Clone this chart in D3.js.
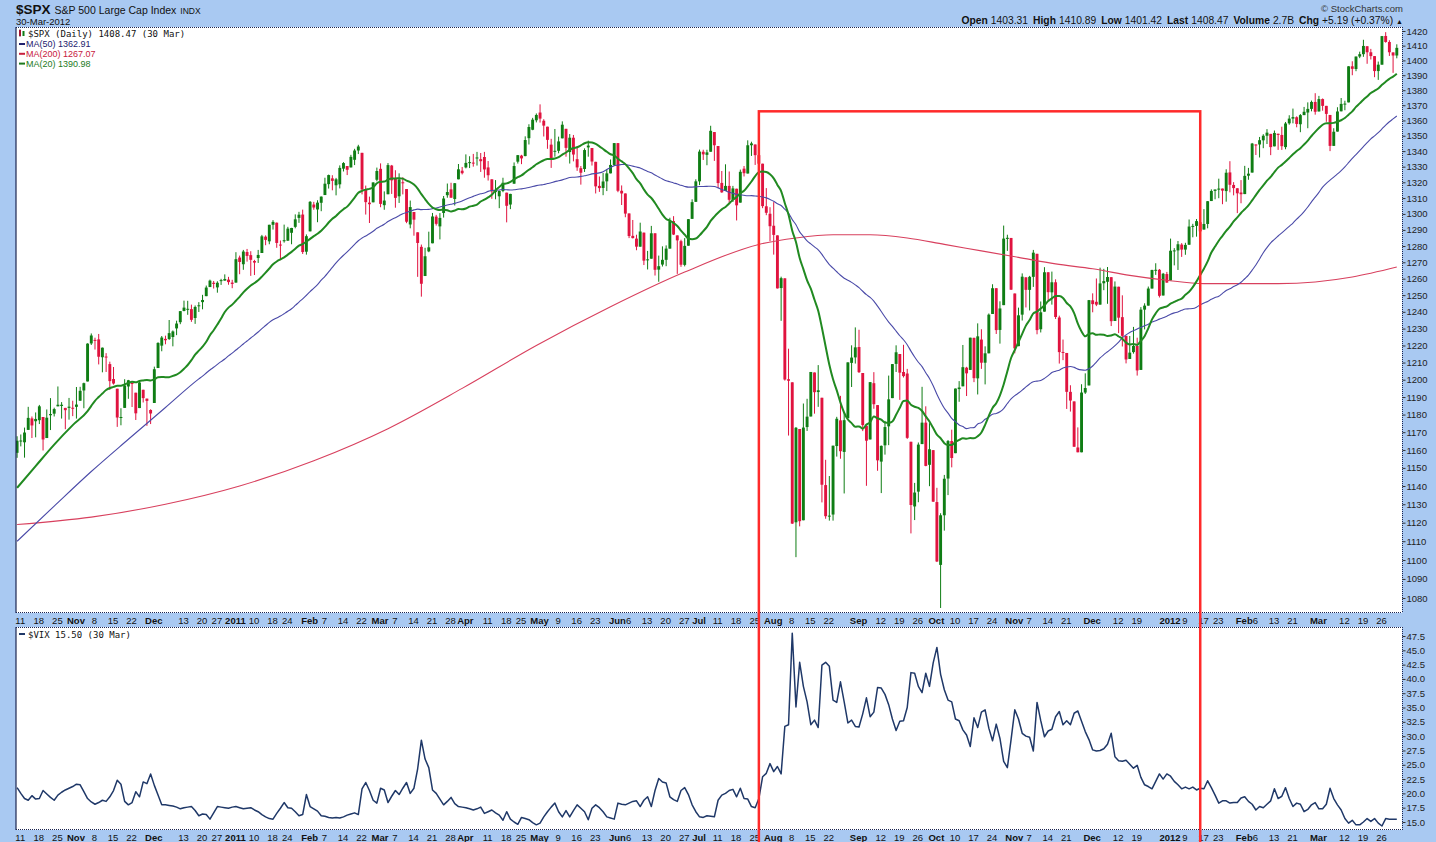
<!DOCTYPE html>
<html><head><meta charset="utf-8">
<script src="https://cdnjs.cloudflare.com/ajax/libs/d3/7.8.5/d3.min.js"></script>
<style>
body{margin:0;background:#a9c9f2;}
svg{display:block;}
</style>
</head><body>
<svg id="c" width="1436" height="842"></svg>
<script>
// ---------------- DATA ----------------
const firstDay = "2010-10-08", lastDay = "2012-03-30";
const holidays = ["2010-11-25","2010-12-24","2011-01-17","2011-02-21","2011-04-22","2011-05-30","2011-07-04",
  "2011-09-05","2011-11-24","2011-12-26","2012-01-02","2012-01-16","2012-02-20"];

// S&P 500 daily [open, high, low, close]
const spx = [
// Oct 2010
[1158.4,1167.7,1155.6,1165.2],[1165.3,1168.7,1162.0,1165.3],[1164.3,1172.6,1155.7,1169.8],[1171.3,1184.4,1171.3,1178.1],[1177.8,1178.9,1166.7,1173.8],[1177.5,1181.2,1167.1,1176.2],
[1176.8,1185.5,1174.6,1184.7],[1178.6,1178.6,1159.7,1165.9],[1166.7,1182.9,1166.7,1178.2],[1179.6,1189.4,1171.2,1180.3],[1180.5,1183.9,1178.9,1183.1],
[1184.7,1196.1,1184.7,1185.6],[1184.9,1187.1,1177.7,1185.6],[1183.8,1183.8,1171.7,1182.5],[1184.5,1189.5,1177.1,1183.8],[1183.9,1187.9,1179.1,1183.3],
// Nov 2010
[1185.7,1195.8,1177.7,1184.4],[1187.9,1195.9,1187.9,1193.6],[1193.8,1198.3,1183.6,1198.0],[1199.0,1221.3,1199.0,1221.1],[1221.2,1227.1,1220.3,1225.9],
[1223.2,1224.6,1217.6,1223.3],[1223.6,1226.8,1208.9,1213.4],[1213.1,1218.8,1204.3,1218.7],[1213.0,1215.5,1204.5,1213.5],[1209.1,1210.5,1194.1,1199.2],
[1200.4,1207.4,1197.2,1197.8],[1194.8,1194.8,1173.0,1178.3],[1178.3,1183.6,1173.9,1178.6],[1183.8,1200.3,1183.8,1196.7],[1196.1,1199.9,1189.0,1199.7],
[1198.1,1198.9,1184.3,1197.8],[1192.5,1192.5,1176.9,1180.7],[1183.7,1198.6,1183.7,1198.4],[1194.2,1194.2,1186.9,1189.4],
[1189.1,1189.1,1173.6,1187.8],[1182.6,1183.0,1174.6,1180.6],
// Dec 2010
[1186.6,1207.6,1186.6,1206.1],[1206.8,1221.9,1206.8,1221.5],[1219.9,1225.6,1216.6,1224.7],
[1223.9,1225.8,1220.7,1223.1],[1227.3,1235.1,1223.3,1223.8],[1225.0,1228.9,1219.5,1228.3],[1230.1,1234.7,1226.1,1233.0],[1233.8,1240.4,1232.6,1240.4],
[1242.5,1246.7,1240.3,1240.5],[1241.8,1246.6,1238.2,1241.6],[1241.6,1244.3,1234.0,1235.2],[1236.3,1243.8,1232.8,1242.9],[1243.6,1245.8,1239.9,1243.9],
[1245.8,1250.2,1241.5,1247.1],[1249.4,1255.8,1249.4,1254.6],[1254.9,1259.4,1254.9,1258.8],[1257.5,1258.6,1254.0,1256.8],
[1254.7,1258.4,1251.5,1257.5],[1259.1,1259.9,1256.2,1258.5],[1258.8,1262.6,1258.8,1259.8],[1259.4,1261.1,1256.3,1257.9],[1256.8,1259.3,1254.2,1257.6],
// Jan 2011
[1257.6,1276.2,1257.6,1271.9],[1272.9,1274.1,1262.7,1270.2],[1268.8,1277.6,1265.4,1276.6],[1276.3,1278.2,1270.4,1273.9],[1274.4,1276.8,1261.7,1271.5],
[1270.8,1271.5,1262.2,1269.8],[1272.6,1277.6,1269.6,1274.5],[1275.7,1286.9,1275.7,1286.0],[1285.8,1286.6,1280.5,1283.8],[1282.9,1293.2,1281.1,1293.2],
[1293.2,1296.1,1290.2,1295.0],[1294.5,1294.6,1278.9,1281.9],[1280.9,1283.4,1271.3,1280.3],[1283.6,1293.3,1282.1,1283.4],
[1283.3,1291.9,1283.2,1290.8],[1288.2,1291.3,1281.1,1291.2],[1291.9,1299.7,1291.0,1296.6],[1297.5,1301.3,1294.4,1299.5],[1299.6,1302.7,1275.1,1276.3],
[1276.5,1287.2,1274.7,1286.1],
// Feb 2011
[1289.1,1308.1,1289.1,1307.6],[1305.9,1307.6,1302.6,1304.0],[1302.8,1308.6,1294.8,1307.1],[1307.0,1311.0,1301.7,1310.9],
[1311.9,1322.9,1311.9,1319.1],[1318.8,1324.9,1316.0,1324.6],[1322.5,1324.5,1314.9,1320.9],[1318.1,1322.8,1311.7,1321.9],[1318.7,1330.8,1316.1,1329.2],
[1328.7,1332.9,1326.9,1332.3],[1330.4,1330.4,1324.6,1328.0],[1329.5,1337.6,1329.5,1336.3],[1334.4,1341.5,1331.0,1340.4],[1340.4,1344.1,1338.1,1343.0],
[1338.9,1338.9,1312.3,1315.4],[1315.4,1317.9,1299.6,1307.4],[1307.1,1310.9,1294.3,1306.1],[1307.3,1320.0,1307.3,1319.9],
[1321.6,1329.4,1320.6,1327.2],
// Mar 2011
[1328.6,1332.1,1304.2,1306.3],[1305.5,1314.2,1302.6,1308.4],[1312.4,1332.3,1312.4,1331.0],[1330.7,1331.1,1312.6,1321.2],
[1322.7,1327.7,1303.9,1310.1],[1311.1,1325.7,1306.9,1321.8],[1319.9,1323.2,1312.3,1320.0],[1315.7,1315.7,1294.2,1295.1],[1293.4,1308.4,1291.0,1304.3],
[1301.2,1301.2,1286.4,1296.4],[1288.5,1288.5,1261.1,1281.9],[1279.5,1280.9,1249.1,1256.9],[1261.6,1278.9,1261.6,1273.7],[1276.7,1288.9,1276.2,1279.2],
[1281.7,1300.6,1281.7,1298.4],[1298.3,1299.4,1292.7,1293.8],[1292.2,1300.5,1284.1,1297.5],[1300.6,1311.3,1297.7,1309.7],[1311.8,1319.2,1310.2,1313.8],
[1315.5,1319.7,1310.2,1310.2],[1309.4,1319.5,1305.3,1319.4],[1321.9,1331.7,1321.9,1328.3],[1327.4,1329.8,1325.0,1325.8],
// Apr 2011
[1329.5,1337.9,1328.9,1332.4],
[1332.7,1336.7,1329.1,1332.9],[1332.0,1338.2,1330.0,1332.6],[1335.9,1339.5,1330.7,1335.5],[1334.8,1338.8,1326.6,1333.5],[1336.2,1339.5,1322.9,1328.2],
[1329.5,1333.6,1321.1,1324.5],[1321.9,1321.9,1309.5,1314.2],[1314.0,1321.4,1309.2,1314.4],[1311.1,1314.7,1303.6,1314.5],[1314.5,1322.9,1313.7,1319.7],
[1313.4,1313.4,1294.7,1305.1],[1305.9,1312.7,1303.0,1312.6],[1319.1,1332.7,1319.1,1330.4],[1333.2,1337.5,1332.0,1337.4],
[1337.1,1337.6,1331.6,1335.3],[1336.8,1349.6,1336.7,1347.2],[1348.4,1357.5,1344.3,1355.7],[1353.9,1361.7,1353.6,1360.5],[1360.1,1364.6,1358.7,1363.6],
// May 2011
[1365.2,1370.6,1358.6,1361.2],[1359.8,1360.8,1349.5,1356.6],[1355.9,1355.9,1341.5,1347.3],[1344.2,1348.0,1329.2,1335.1],[1340.2,1354.4,1336.4,1340.2],
[1340.2,1349.4,1338.6,1346.3],[1348.3,1359.4,1348.3,1357.2],[1354.5,1354.5,1336.4,1342.1],[1339.4,1351.1,1332.0,1348.7],[1348.7,1350.5,1333.4,1337.8],
[1334.8,1343.3,1327.3,1329.5],[1326.1,1330.4,1318.5,1329.0],[1328.5,1341.8,1326.6,1340.7],[1342.4,1346.8,1336.4,1343.6],[1342.0,1342.0,1330.7,1333.3],
[1333.1,1333.1,1312.9,1317.4],[1317.7,1323.7,1313.9,1316.3],[1316.4,1325.9,1311.8,1320.5],[1320.6,1328.5,1314.4,1325.7],[1325.7,1334.6,1325.7,1331.1],
[1331.1,1345.2,1331.1,1345.2],
// Jun 2011
[1345.2,1345.2,1313.7,1314.6],[1314.6,1318.0,1305.6,1312.9],[1312.9,1312.9,1297.9,1300.2],
[1300.3,1300.3,1284.9,1286.2],[1286.3,1296.2,1284.7,1284.9],[1284.6,1287.0,1277.4,1279.6],[1279.6,1294.5,1279.6,1289.0],[1288.3,1288.3,1268.3,1271.0],
[1271.3,1277.0,1265.6,1271.8],[1272.2,1292.5,1272.2,1287.9],[1287.9,1287.9,1261.9,1265.4],[1265.5,1274.1,1258.1,1267.6],[1268.6,1279.8,1267.4,1271.5],
[1271.5,1280.4,1267.6,1278.4],[1278.4,1297.6,1278.4,1295.5],[1295.5,1298.6,1286.8,1287.1],[1286.6,1286.6,1262.9,1283.5],[1283.0,1283.9,1267.2,1268.5],
[1268.4,1284.9,1267.5,1280.1],[1280.2,1296.8,1280.2,1296.7],[1296.9,1309.2,1296.9,1307.4],[1307.6,1321.9,1307.6,1320.6],
// Jul 2011
[1320.6,1341.0,1318.2,1339.7],
[1339.6,1340.9,1334.3,1337.9],[1337.6,1340.9,1330.9,1339.2],[1339.6,1356.5,1339.6,1353.2],[1352.4,1352.4,1333.7,1343.8],
[1343.3,1343.3,1316.4,1319.5],[1319.6,1327.2,1313.3,1313.6],[1314.5,1331.5,1314.5,1317.7],[1317.7,1326.9,1306.5,1308.9],[1308.9,1317.7,1307.5,1316.1],
[1315.9,1315.9,1295.9,1305.4],[1307.1,1328.1,1307.1,1326.7],[1328.7,1330.4,1323.7,1325.8],[1325.6,1347.0,1325.6,1343.8],[1343.8,1346.1,1336.9,1345.0],
[1344.3,1344.3,1331.1,1337.4],[1337.4,1338.5,1329.1,1331.9],[1331.9,1331.9,1303.6,1304.9],[1304.8,1316.3,1299.2,1300.7],[1300.1,1304.2,1282.9,1292.3],
// Aug 2011
[1292.6,1307.4,1274.7,1286.9],[1286.6,1286.6,1254.0,1254.1],[1254.3,1261.2,1234.6,1260.3],[1260.2,1260.2,1199.5,1200.1],[1200.3,1218.1,1168.1,1199.4],
[1198.5,1198.5,1119.3,1119.5],[1120.2,1172.9,1101.5,1172.5],[1171.8,1171.8,1118.0,1120.8],[1121.3,1186.3,1121.3,1172.6],[1172.9,1189.0,1170.7,1178.8],
[1178.9,1204.5,1178.9,1204.5],[1204.2,1204.2,1180.5,1192.8],[1192.9,1208.5,1184.4,1193.9],[1189.6,1189.6,1131.0,1140.7],[1140.5,1154.5,1122.1,1123.5],
[1123.6,1145.5,1121.1,1123.8],[1124.4,1162.4,1121.1,1162.4],[1162.2,1178.7,1156.3,1177.6],[1176.7,1190.7,1155.1,1159.3],[1158.9,1181.2,1135.9,1176.8],
[1177.9,1210.1,1177.9,1210.1],[1209.8,1220.1,1195.8,1212.9],[1213.0,1230.7,1209.4,1218.9],
// Sep 2011
[1219.1,1229.3,1203.9,1204.4],[1203.9,1203.9,1170.6,1174.0],
[1173.6,1173.6,1140.1,1165.2],[1165.9,1198.6,1165.9,1198.6],[1198.0,1204.4,1183.3,1185.9],[1185.4,1185.4,1148.4,1154.2],
[1153.5,1162.5,1136.1,1162.3],[1162.6,1176.4,1157.4,1172.9],[1173.3,1202.4,1162.7,1188.7],[1189.4,1209.1,1189.4,1209.1],[1209.2,1220.1,1204.5,1216.0],
[1215.0,1215.0,1188.4,1204.1],[1204.5,1220.4,1201.3,1202.1],[1203.6,1206.3,1166.2,1166.8],[1164.6,1164.6,1114.2,1129.6],[1128.8,1141.7,1121.4,1136.4],
[1136.9,1164.2,1131.1,1163.0],[1163.3,1195.9,1163.3,1175.4],[1175.4,1184.7,1150.9,1151.1],[1151.7,1175.1,1139.9,1160.4],[1159.9,1159.9,1131.3,1131.4],
// Oct 2011
[1131.2,1139.0,1098.9,1099.2],[1097.4,1125.1,1074.8,1124.0],[1124.0,1146.1,1115.7,1144.0],[1144.1,1165.6,1135.0,1165.0],[1165.0,1171.4,1150.3,1155.5],
[1158.2,1194.9,1158.2,1194.9],[1194.6,1199.2,1187.3,1195.5],[1196.2,1220.3,1196.2,1207.3],[1207.0,1207.5,1190.6,1203.7],[1205.7,1224.6,1205.7,1224.6],
[1224.5,1224.6,1198.6,1200.9],[1200.8,1233.1,1191.5,1225.4],[1223.5,1229.6,1206.3,1209.9],[1209.9,1219.5,1197.3,1215.4],[1215.4,1239.0,1215.4,1238.3],
[1238.7,1256.6,1238.7,1254.2],[1254.2,1254.2,1226.8,1229.1],[1229.2,1246.3,1221.1,1242.0],[1244.0,1292.7,1244.0,1284.6],[1284.4,1287.0,1277.0,1285.1],
[1285.0,1285.0,1253.2,1253.3],
// Nov 2011
[1251.0,1251.0,1215.4,1218.3],[1219.6,1242.5,1219.6,1237.9],[1238.3,1263.2,1234.8,1261.2],[1260.8,1260.8,1242.6,1253.2],
[1253.2,1261.7,1240.8,1261.1],[1261.1,1277.6,1255.0,1275.9],[1275.2,1275.2,1226.6,1229.1],[1229.6,1246.2,1227.7,1239.7],[1240.1,1267.0,1240.1,1263.9],
[1263.9,1263.9,1246.7,1251.8],[1251.7,1264.3,1244.3,1257.8],[1257.8,1259.6,1235.7,1236.9],[1236.6,1237.7,1209.4,1216.1],[1216.2,1223.5,1211.4,1215.7],
[1215.6,1215.6,1183.2,1193.0],[1193.0,1196.8,1181.7,1188.0],[1187.5,1187.5,1161.8,1161.8],[1161.4,1172.7,1158.7,1158.7],
[1158.7,1197.4,1158.7,1192.6],[1192.6,1203.7,1191.8,1195.2],[1196.7,1247.1,1196.7,1247.0],
// Dec 2011
[1246.9,1251.1,1239.7,1244.6],[1246.0,1260.1,1243.4,1244.3],
[1244.3,1266.7,1244.3,1257.1],[1257.2,1266.0,1253.0,1258.5],[1258.1,1267.1,1244.8,1261.0],[1260.9,1260.9,1231.5,1234.4],[1234.5,1258.3,1234.5,1255.2],
[1255.1,1255.1,1227.3,1236.5],[1236.8,1249.9,1219.4,1225.7],[1225.7,1225.7,1209.5,1211.8],[1212.1,1225.6,1212.1,1215.8],[1216.1,1231.0,1215.2,1219.7],
[1219.7,1224.6,1202.4,1205.4],[1205.7,1242.8,1205.7,1241.3],[1241.3,1245.1,1229.5,1243.7],[1243.7,1255.2,1243.7,1254.0],[1254.0,1265.4,1254.0,1265.3],
[1265.0,1269.4,1262.3,1265.4],[1265.4,1265.9,1248.6,1249.6],[1249.8,1263.5,1249.8,1263.0],[1262.8,1264.1,1257.5,1257.6],
// Jan 2012
[1258.9,1284.6,1258.9,1277.1],[1277.0,1278.7,1268.1,1277.3],[1277.3,1283.1,1265.3,1281.1],[1280.9,1281.8,1273.3,1277.8],
[1277.8,1282.0,1274.6,1280.7],[1280.8,1296.5,1280.8,1292.1],[1292.0,1293.8,1285.4,1292.5],[1292.5,1296.8,1285.8,1295.5],[1294.8,1294.8,1277.6,1289.1],
[1290.2,1303.0,1290.2,1293.7],[1293.7,1308.1,1291.0,1308.0],[1308.1,1315.5,1308.1,1314.5],[1314.5,1315.4,1309.2,1315.4],
[1315.3,1322.3,1309.9,1316.0],[1316.0,1316.0,1306.1,1314.7],[1314.4,1328.3,1307.7,1326.1],[1326.3,1333.5,1313.6,1318.4],[1318.3,1320.1,1311.7,1316.3],
[1316.2,1316.2,1300.5,1313.0],[1313.5,1321.4,1306.7,1312.4],
// Feb 2012
[1312.5,1330.5,1312.5,1324.1],[1324.2,1329.2,1321.6,1325.5],[1326.2,1345.3,1326.2,1344.9],
[1344.3,1344.4,1337.5,1344.3],[1344.3,1349.2,1335.9,1347.1],[1347.0,1351.0,1341.9,1350.0],[1350.0,1354.3,1344.6,1352.0],[1351.2,1351.2,1337.4,1342.6],
[1343.1,1353.4,1343.1,1351.8],[1351.3,1351.3,1340.8,1350.5],[1350.5,1355.9,1340.8,1343.2],[1342.6,1359.0,1341.2,1358.0],[1358.1,1363.4,1357.2,1361.2],
[1361.2,1367.8,1358.1,1362.2],[1362.1,1362.7,1355.5,1357.7],[1357.5,1364.2,1352.3,1363.5],[1363.5,1368.9,1363.5,1365.7],
[1365.2,1371.9,1354.9,1367.6],[1367.6,1373.1,1366.0,1372.2],[1372.2,1378.0,1363.8,1365.7],
// Mar 2012
[1365.9,1376.2,1365.9,1374.1],[1374.1,1374.5,1366.4,1369.6],
[1369.6,1369.6,1359.1,1364.3],[1363.6,1363.6,1340.0,1343.4],[1343.4,1354.9,1343.4,1352.6],[1352.7,1368.7,1352.7,1365.9],[1366.0,1374.8,1366.0,1370.9],
[1370.8,1373.0,1366.7,1371.1],[1371.9,1396.1,1371.9,1396.0],[1396.0,1399.4,1390.0,1394.3],[1394.2,1402.6,1392.7,1402.6],[1402.6,1405.9,1401.5,1404.2],
[1404.2,1414.0,1402.4,1409.8],[1409.6,1409.6,1397.7,1405.5],[1405.5,1407.8,1400.6,1402.9],[1402.9,1402.9,1388.7,1392.8],[1392.8,1399.2,1386.9,1397.1],
[1397.1,1416.6,1397.1,1416.5],[1416.6,1419.2,1412.0,1412.5],[1412.5,1413.7,1403.0,1405.5],[1405.4,1405.4,1391.6,1403.3],[1403.3,1410.9,1401.4,1408.5]
];

// VIX daily close
const vix = [
21.0,20.0,19.1,18.8,19.6,19.0,19.1,20.5,19.9,19.3, 18.8,19.7,20.2,20.6,20.9,21.2,21.6,21.5,20.3,19.1,
18.5,18.1,18.4,18.8,18.6,19.4,20.5,22.3,21.6,18.6, 18.0,18.4,20.3,19.4,22.0,21.7,23.4,21.4,19.7,18.0,
18.0,17.9,17.8,17.6,17.3,17.5,17.6,17.7,17.0,16.1, 16.4,16.3,15.5,16.6,17.7,17.6,17.5,17.4,17.6,17.7,
17.5,17.3,17.4,17.5,17.1,16.8,16.3,15.9,15.6,15.5, 16.5,17.4,18.4,17.5,17.4,16.8,16.1,16.3,19.8,17.7,
17.3,16.9,16.1,16.0,15.8,15.7,15.8,15.7,15.9,16.2, 16.4,16.6,16.3,20.8,21.9,20.5,18.8,18.3,20.9,20.6,
18.4,19.5,20.5,19.8,20.9,21.9,20.0,20.9,24.3,29.3, 26.0,24.5,20.6,20.0,19.0,18.0,18.6,19.3,18.2,17.7,
17.6,17.5,17.3,17.1,17.3,17.6,16.5,16.8,17.1,16.6, 16.2,15.3,16.8,15.5,15.0,14.6,15.8,15.6,15.4,14.9,
14.5,14.8,15.9,16.8,17.6,18.3,16.8,15.9,17.0,15.9, 17.0,18.0,17.4,16.8,15.4,17.4,18.0,17.5,16.8,15.9,
15.7,15.5,18.3,18.1,18.0,18.3,18.6,18.7,17.7,18.8, 19.4,17.7,20.5,22.6,22.0,21.8,19.4,18.9,18.6,20.5,
21.0,19.8,18.0,16.8,15.9,15.8,16.1,16.0,15.9,18.8, 19.7,20.0,20.5,20.7,19.4,20.9,19.1,19.0,17.7,17.5,
19.1,22.9,23.5,25.2,23.8,24.7,23.4,31.7,32.0,48.0, 35.1,42.9,38.7,36.0,32.0,32.8,31.5,42.4,42.9,42.2,
36.3,35.9,39.5,36.0,32.3,32.8,31.7,31.6,33.9,36.7, 33.4,34.2,38.5,38.4,37.3,35.5,33.0,31.0,32.6,32.7,
35.0,41.1,41.0,38.7,37.6,41.0,38.7,42.8,45.5,40.8, 38.1,36.3,36.0,33.0,32.7,31.1,30.2,28.2,33.2,31.5,
34.2,34.6,31.4,29.2,32.1,29.6,25.6,24.5,29.4,34.6, 33.0,30.5,30.0,29.8,27.4,35.9,32.7,29.9,30.9,31.2,
33.4,34.3,32.0,32.7,32.0,34.0,34.4,32.6,30.8,29.4, 27.6,27.4,27.5,27.8,28.6,30.5,26.4,25.7,25.6,25.8,
25.1,24.4,24.9,22.8,21.5,21.2,20.8,22.1,23.4,22.5, 23.4,23.0,22.1,21.5,20.8,21.1,20.8,21.1,20.6,20.9,
20.8,22.2,21.0,19.7,18.3,18.7,18.7,18.3,18.4,18.4, 19.2,19.4,18.6,18.1,17.1,17.7,17.5,18.1,18.7,20.8,
19.1,19.5,21.0,19.1,17.7,18.3,18.1,16.8,17.2,18.0, 18.4,17.3,17.3,18.1,20.9,19.1,18.0,17.1,15.6,14.8,
15.3,14.5,14.5,15.0,15.6,15.1,15.6,14.8,14.3,15.6, 15.5,15.5,15.5
];

// Moving-average values before enough in-chart history exists
const ma20Lead = [["2010-10-08",1139],["2010-10-15",1151],["2010-10-22",1163],["2010-10-29",1174]];
const ma50Lead = [["2010-10-08",1110],["2010-10-22",1129],["2010-11-05",1148],["2010-11-19",1166],["2010-12-06",1184]];
// 200-day MA
const ma200 = [["2010-10-08",1119],["2010-11-05",1123],["2010-12-06",1130],["2011-01-04",1140],["2011-02-02",1154],
  ["2011-03-03",1172],["2011-03-31",1195],["2011-04-29",1220],["2011-05-27",1243],["2011-06-27",1264],["2011-07-26",1281],
  ["2011-08-09",1285],["2011-08-23",1287],["2011-09-07",1287],["2011-09-21",1285],["2011-10-05",1281],["2011-10-19",1277],
  ["2011-11-02",1273],["2011-11-16",1269],["2011-12-01",1266],["2011-12-15",1262],["2011-12-30",1259],["2012-01-17",1257],
  ["2012-01-31",1257],["2012-02-14",1257],["2012-02-29",1258],["2012-03-14",1261],["2012-03-30",1267.07]];

const priceTicks = d3.range(1080, 1421, 10);
const vixTicks = d3.range(15, 47.6, 2.5);
const dateTicks = [
 ["2010-10-11","11"],["2010-10-18","18"],["2010-10-25","25"],["2010-11-01","Nov"],["2010-11-08","8"],["2010-11-15","15"],["2010-11-22","22"],
 ["2010-12-01","Dec"],["2010-12-13","13"],["2010-12-20","20"],["2010-12-27","27"],["2011-01-03","2011"],["2011-01-10","10"],["2011-01-18","18"],
 ["2011-01-24","24"],["2011-02-01","Feb"],["2011-02-07","7"],["2011-02-14","14"],["2011-02-22","22"],["2011-03-01","Mar"],["2011-03-07","7"],
 ["2011-03-14","14"],["2011-03-21","21"],["2011-03-28","28"],["2011-04-01","Apr"],["2011-04-11","11"],["2011-04-18","18"],["2011-04-25","25"],
 ["2011-05-02","May"],["2011-05-09","9"],["2011-05-16","16"],["2011-05-23","23"],["2011-06-01","Jun"],["2011-06-06","6"],["2011-06-13","13"],
 ["2011-06-20","20"],["2011-06-27","27"],["2011-07-01","Jul"],["2011-07-11","11"],["2011-07-18","18"],["2011-07-25","25"],["2011-08-01","Aug"],
 ["2011-08-08","8"],["2011-08-15","15"],["2011-08-22","22"],["2011-09-01","Sep"],["2011-09-12","12"],["2011-09-19","19"],["2011-09-26","26"],
 ["2011-10-03","Oct"],["2011-10-10","10"],["2011-10-17","17"],["2011-10-24","24"],["2011-11-01","Nov"],["2011-11-07","7"],["2011-11-14","14"],
 ["2011-11-21","21"],["2011-12-01","Dec"],["2011-12-12","12"],["2011-12-19","19"],["2012-01-03","2012"],["2012-01-09","9"],["2012-01-17","17"],
 ["2012-01-23","23"],["2012-02-01","Feb"],["2012-02-06","6"],["2012-02-13","13"],["2012-02-21","21"],["2012-03-01","Mar"],["2012-03-12","12"],
 ["2012-03-19","19"],["2012-03-26","26"]];

// annotation box (highlighted period)
const boxStart = "2011-07-26", boxEnd = "2012-01-13", boxTopPrice = 1366;

// ---------------- BUILD ----------------
function tradingDays(a, b, hol) {
  const out = [], h = new Set(hol);
  let d = new Date(a + "T00:00:00Z");
  const e = new Date(b + "T00:00:00Z");
  while (d <= e) {
    const wd = d.getUTCDay(), k = d.toISOString().slice(0, 10);
    if (wd !== 0 && wd !== 6 && !h.has(k)) out.push(k);
    d = new Date(d.getTime() + 86400000);
  }
  return out;
}
const dates = tradingDays(firstDay, lastDay, holidays);
const n = Math.min(dates.length, spx.length);
const rows = d3.range(n).map(i => ({k: dates[i], o: spx[i][0], h: spx[i][1], l: spx[i][2], c: spx[i][3],
  up: i === 0 ? spx[i][3] >= spx[i][0] : spx[i][3] >= spx[i-1][3]}));
const closes = rows.map(r => r.c);

const L = 16, R = 1402, T1 = 27, B1 = 613, T2 = 627, B2 = 830;
const svg = d3.select("#c");
const FONT = "'Liberation Sans', Arial, sans-serif";

const x = d3.scalePoint().domain(dates).range([17.1, 1396.8]);
const y = d3.scaleLog().domain([1080, 1420]).range([598, 31]);
const yv = d3.scaleLinear().domain([15, 47.5]).range([822, 636]);

svg.append("rect").attr("width", 1436).attr("height", 842).attr("fill", "#a9c9f2");

const defs = svg.append("defs");
defs.append("clipPath").attr("id", "cp1").append("rect").attr("x", L).attr("y", T1).attr("width", R - L).attr("height", B1 - T1);
defs.append("clipPath").attr("id", "cp2").append("rect").attr("x", L).attr("y", T2).attr("width", R - L).attr("height", B2 - T2);

// panels
svg.append("rect").attr("x", L).attr("y", T1).attr("width", R - L).attr("height", B1 - T1).attr("fill", "#fff");
svg.append("rect").attr("x", L).attr("y", T2).attr("width", R - L).attr("height", B2 - T2).attr("fill", "#fff");

// header
const hd = svg.append("text").attr("x", 16).attr("y", 14).attr("font-family", FONT).attr("fill", "#111");
hd.append("tspan").attr("font-weight", "bold").attr("font-size", 13.5).text("$SPX");
hd.append("tspan").attr("font-size", 10.5).attr("dx", 4).text("S&P 500 Large Cap Index");
hd.append("tspan").attr("font-size", 8.5).attr("dx", 4).text("INDX");
svg.append("text").attr("x", 16).attr("y", 25).attr("font-family", FONT).attr("font-size", 9.5).attr("fill", "#111").text("30-Mar-2012");
svg.append("text").attr("x", 1403).attr("y", 12).attr("text-anchor", "end").attr("font-family", FONT).attr("font-size", 9.5)
  .attr("fill", "#333").text("\u00a9 StockCharts.com");
const info = [["Open","1403.31"],["High","1410.89"],["Low","1401.42"],["Last","1408.47"],["Volume","2.7B"],["Chg","+5.19 (+0.37%)"]];
const it = svg.append("text").attr("x", 1403).attr("y", 24).attr("text-anchor", "end").attr("font-family", FONT).attr("font-size", 10.3).attr("fill", "#111");
info.forEach((p, i) => {
  it.append("tspan").attr("font-weight", "bold").attr("dx", i ? 5 : 0).text(p[0]);
  it.append("tspan").attr("dx", 3).text(p[1]);
});
it.append("tspan").attr("dx", 3).attr("font-size", 7).text("\u25B2");

// candles
const gC = svg.append("g").attr("clip-path", "url(#cp1)");
const GREEN = "#0f7d14", RED = "#e0133f";
gC.selectAll("line.w").data(rows).join("line")
  .attr("x1", d => x(d.k)).attr("x2", d => x(d.k)).attr("y1", d => y(d.h)).attr("y2", d => y(d.l))
  .attr("stroke", d => d.up ? GREEN : RED).attr("stroke-width", 1);
gC.selectAll("rect.b").data(rows).join("rect")
  .attr("x", d => x(d.k) - 1.45).attr("width", 2.9)
  .attr("y", d => Math.min(y(d.o), y(d.c)))
  .attr("height", d => Math.max(1, Math.abs(y(d.o) - y(d.c))))
  .attr("fill", d => d.up ? GREEN : RED);

// moving averages
function sma(len) {
  const out = [];
  for (let i = len - 1; i < closes.length; i++) out.push([dates[i], d3.mean(closes.slice(i - len + 1, i + 1))]);
  return out;
}
const ma20Pts = ma20Lead.concat(sma(20));
const ma50Pts = ma50Lead.concat(sma(50));
const mkLine = () => d3.line().x(d => x(d[0])).y(d => y(d[1])).curve(d3.curveMonotoneX);
gC.append("path").attr("d", mkLine()(ma200)).attr("fill", "none").attr("stroke", "#d8405e").attr("stroke-width", 1.1);
gC.append("path").attr("d", mkLine()(ma50Pts)).attr("fill", "none").attr("stroke", "#4a4aa8").attr("stroke-width", 1.1);
gC.append("path").attr("d", mkLine()(ma20Pts)).attr("fill", "none").attr("stroke", "#218a21").attr("stroke-width", 2);

// VIX
const gV = svg.append("g").attr("clip-path", "url(#cp2)");
gV.append("path").attr("d", d3.line().x((d, i) => x(dates[i])).y(d => yv(d))(vix.slice(0, n)))
  .attr("fill", "none").attr("stroke", "#1f3868").attr("stroke-width", 1.5).attr("stroke-linejoin", "round");

// legends
const lg = svg.append("g").attr("font-family", "'DejaVu Sans Mono', monospace").attr("font-size", 9).attr("fill", "#111");
lg.append("rect").attr("x", 19).attr("y", 30).attr("width", 2).attr("height", 6).attr("fill", RED);
lg.append("rect").attr("x", 22.5).attr("y", 31).attr("width", 2).attr("height", 5).attr("fill", GREEN);
lg.append("line").attr("x1", 20).attr("x2", 20).attr("y1", 29).attr("y2", 37).attr("stroke", "#111").attr("stroke-width", 0.6);
lg.append("text").attr("x", 28).attr("y", 37).text("$SPX (Daily) 1408.47 (30 Mar)");
const maLeg = [["MA(50) 1362.91", "#22226e"], ["MA(200) 1267.07", "#c8203e"], ["MA(20) 1390.98", "#1d7a1d"]];
maLeg.forEach((m, i) => {
  const yy = 47 + i * 9.8;
  svg.append("line").attr("x1", 19).attr("x2", 25).attr("y1", yy - 3).attr("y2", yy - 3).attr("stroke", m[1]).attr("stroke-width", 2);
  svg.append("text").attr("x", 26).attr("y", yy).attr("font-family", FONT).attr("font-size", 9).attr("fill", m[1]).text(m[0]);
});
svg.append("line").attr("x1", 19).attr("x2", 25).attr("y1", 634).attr("y2", 634).attr("stroke", "#1f3868").attr("stroke-width", 2);
svg.append("text").attr("x", 28).attr("y", 637.5).attr("font-family", "'DejaVu Sans Mono', monospace").attr("font-size", 9).attr("fill", "#111").text("$VIX 15.50 (30 Mar)");

// borders
[[T1, B1], [T2, B2]].forEach(([t, b]) => {
  svg.append("line").attr("x1", L).attr("x2", L).attr("y1", t).attr("y2", b).attr("stroke", "#1c2550").attr("stroke-width", 1.2);
  svg.append("line").attr("x1", R + 0.5).attr("x2", R + 0.5).attr("y1", t).attr("y2", b).attr("stroke", "#1c2550").attr("stroke-dasharray", "1,1");
  svg.append("line").attr("x1", L).attr("x2", R).attr("y1", t + 0.5).attr("y2", t + 0.5).attr("stroke", "#1c2550").attr("stroke-dasharray", "1,1");
  svg.append("line").attr("x1", L).attr("x2", R).attr("y1", b - 0.5).attr("y2", b - 0.5).attr("stroke", "#1c2550").attr("stroke-dasharray", "1,1");
});

// right axes
const ay1 = svg.append("g").attr("transform", `translate(${R + 0.5},0)`)
  .call(d3.axisRight(y).tickValues(priceTicks).tickFormat(d3.format("d")).tickSize(3).tickPadding(1));
const ay2 = svg.append("g").attr("transform", `translate(${R + 0.5},0)`)
  .call(d3.axisRight(yv).tickValues(vixTicks).tickFormat(d3.format(".1f")).tickSize(3).tickPadding(1));
[ay1, ay2].forEach(a => {
  a.select(".domain").remove();
  a.selectAll("line").attr("stroke", "#333");
  a.selectAll("text").attr("font-family", FONT).attr("font-size", 9.5).attr("fill", "#222");
});

// bottom date axes
const tickMap = new Map(dateTicks);
const isBold = s => /[A-Za-z]/.test(s) || s.length === 4;
[[B1, 623.5], [B2, 840.5]].forEach(([ty, base]) => {
  const ax = svg.append("g").attr("transform", `translate(-1,${ty})`)
    .call(d3.axisBottom(x).tickValues(dateTicks.map(d => d[0])).tickFormat(k => tickMap.get(k)).tickSize(0).tickPadding(0));
  ax.select(".domain").remove();
  ax.selectAll("text").attr("y", base - ty).attr("dy", null)
    .attr("font-family", FONT).attr("font-size", 9.5).attr("fill", "#111")
    .attr("font-weight", k => isBold(tickMap.get(k)) ? "bold" : "normal");
});

// highlight box
svg.append("rect")
  .attr("x", x(boxStart)).attr("y", y(boxTopPrice))
  .attr("width", x(boxEnd) - x(boxStart)).attr("height", 900)
  .attr("fill", "none").attr("stroke", "#ff2a2a").attr("stroke-width", 2.5);
</script>
</body></html>
